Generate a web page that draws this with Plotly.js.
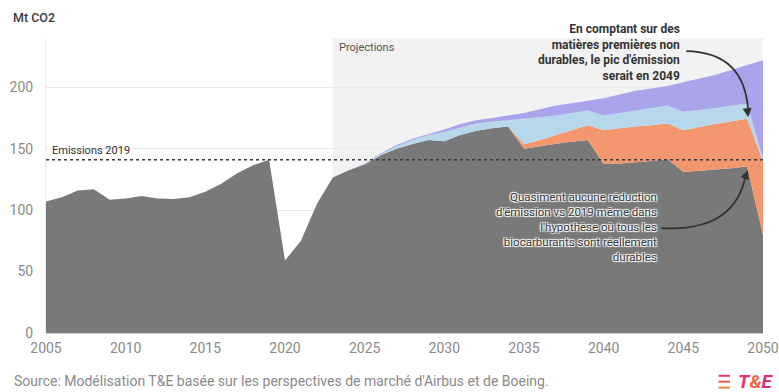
<!DOCTYPE html>
<html><head><meta charset="utf-8">
<script src="https://cdn.plot.ly/plotly-3.0.1.min.js"></script>
<style>html,body{margin:0;padding:0;background:#fff}#chart{width:779px;height:392px}</style>
</head><body><div id="chart"></div>
<script>
// ---- data (Mt CO2) ----
const years = [2005,2006,2007,2008,2009,2010,2011,2012,2013,2014,2015,2016,2017,2018,2019,2020,2021,2022,
  2023,2024,2025,2026,2027,2028,2029,2030,2031,2032,2033,2034,2035,2036,2037,2038,2039,2040,2041,2042,2043,2044,2045,2046,2047,2048,2049,2050];
const baseEmissions = [107,110.5,116,117,108.5,109.5,111.5,109.5,109,110.5,115,121.5,130,136.5,141,59,75,105,
  126.6,132.5,137,144.7,150,153.7,157,156,161,164.5,166.5,168,150,152,154,155.5,157,137.5,138,139,140,141.5,131,132,133,134,135.5,80];
const projYears = [2023,2024,2025,2026,2027,2028,2029,2030,2031,2032,2033,2034,2035,2036,2037,2038,2039,2040,2041,2042,2043,2044,2045,2046,2047,2048,2049,2050];
const nonDurable = [0,0,0,0,0,0,0,0,0,0,0,0,3.5,5,7,9.5,12,27.5,28.5,29,29,29,34,35.5,37,38,39,60];
const layerBlue = [0,0,0.5,0.8,2,3.3,4,7.5,6,6,5.5,5,21,18.5,16,14,12,12,12.5,13,14,14.5,15,14,13,13,12,2];
const layerPurple = [0,0,0.5,0.5,1,1,1,2,3,2.5,3,4,4.5,6.5,8,8,8,14,15,16,16,16,24,25.5,27,29,31.5,80];
const emissions2019 = 141;
const projStart = 2023, projEnd = 2050;
const xTicks = [2005,2010,2015,2020,2025,2030,2035,2040,2045,2050];
const yTicks = [0,50,100,150,200];

const FONT = 'Roboto, "Open Sans", sans-serif';
const traces = [
  {x: years, y: baseEmissions, name: 'Émissions', stackgroup: 'a', mode: 'none', fillcolor: '#797979', line:{width:0}},
  {x: projYears, y: nonDurable, name: 'Non durables', stackgroup: 'a', mode: 'none', fillcolor: '#f4976e', line:{width:0}},
  {x: projYears, y: layerBlue, name: 'B', stackgroup: 'a', mode: 'none', fillcolor: '#b6d8ea', line:{width:0}},
  {x: projYears, y: layerPurple, name: 'C', stackgroup: 'a', mode: 'none', fillcolor: '#a9a4ec', line:{width:0}}
];

const shapes = [
  {type:'rect', xref:'x', yref:'paper', x0: projStart, x1: projEnd, y0:0, y1:1, fillcolor:'#f2f2f2', line:{width:0}, layer:'below'},
  {type:'line', xref:'paper', yref:'y', x0:0, x1:1, y0: emissions2019, y1: emissions2019, line:{color:'#3a3a3a', width:1.5, dash:'dot'}},
  {type:'path', xref:'x', yref:'y', path:'M 2045.18,229.3 Q 2048.88,228.5 2049.07,180', line:{color:'#333', width:1.8}},
  {type:'path', xref:'x', yref:'y', path:'M 2043.61,85.4 Q 2048.25,82.1 2048.91,128.5', line:{color:'#333', width:1.8}},
  // logo bars
  {type:'line', xref:'paper', yref:'paper', x0:0.938, x1:0.954, y0:-0.145, y1:-0.145, line:{color:'#e8336b', width:2}},
  {type:'line', xref:'paper', yref:'paper', x0:0.938, x1:0.954, y0:-0.165, y1:-0.165, line:{color:'#ee5a4a', width:2}},
  {type:'line', xref:'paper', yref:'paper', x0:0.938, x1:0.954, y0:-0.185, y1:-0.185, line:{color:'#f0803a', width:2}}
];

const annotations = [
  {xref:'paper', yref:'paper', x:-0.049, y:1.071, xanchor:'left', yanchor:'middle', text:'Mt CO2', showarrow:false,
   font:{family:FONT, size:12.5, color:'#3a3a3a', weight:500}},
  {xref:'x', yref:'y', x: projStart, y:232.5, xanchor:'left', yanchor:'middle', xshift:4, text:'Projections', showarrow:false,
   font:{family:FONT, size:11, color:'#555'}},
  {xref:'x', yref:'y', x: 2005, y: emissions2019, xanchor:'left', yanchor:'bottom', xshift:4, yshift:1, text:'Emissions 2019', showarrow:false,
   font:{family:FONT, size:11, color:'#333'}},
  {xref:'x', yref:'y', x: 2044.93, y: 228.5, xanchor:'right', yanchor:'middle', align:'right', showarrow:false,
   text:'En comptant sur des<br>matières premières non<br>durables, le pic d\'émission<br>serait en 2049',
   font:{family:FONT, size:12, color:'#333', weight:700}},
  {xref:'x', yref:'y', x: 2043.48, y: 86.2, xanchor:'right', yanchor:'middle', align:'right', showarrow:false,
   text:'Quasiment aucune réduction<br>d\'émission vs 2019 même dans<br>l\'hypothèse où tous les<br>biocarburants sont réellement<br>durables',
   font:{family:FONT, size:11.5, color:'#3a3a3a', shadow:'1px 1px 1px #fff, -1px -1px 1px #fff, 1px -1px 1px #fff, -1px 1px 1px #fff'}},
  {xref:'x', yref:'y', x: 2049.07, y: 175.6, ax:-1, ay:-9, text:'', showarrow:true, arrowhead:2, arrowsize:1, arrowwidth:1.8, arrowcolor:'#333'},
  {xref:'x', yref:'y', x: 2049.04, y: 132.5, ax:-3, ay:9, text:'', showarrow:true, arrowhead:2, arrowsize:1, arrowwidth:1.8, arrowcolor:'#333'},
  {xref:'paper', yref:'paper', x:-0.047, y:-0.163, xanchor:'left', yanchor:'middle', showarrow:false,
   text:'Source: Modélisation T&E basée sur les perspectives de marché d\'Airbus et de Boeing.',
   font:{family:FONT, size:14, color:'#8a8a8a'}},
  {xref:'paper', yref:'paper', x:1.018, y:-0.165, xanchor:'right', yanchor:'middle', showarrow:false,
   text:'<i><b><span style="color:#e8336b">T</span><span style="color:#f06a45">&amp;</span><span style="color:#d9327a">E</span></b></i>',
   font:{family:FONT, size:19}}
];

const layout = {
  width: 779, height: 392,
  margin: {l:46, r:16, t:38, b:59, pad:0},
  paper_bgcolor:'#fff', plot_bgcolor:'#fff',
  showlegend: false,
  font: {family: FONT, color:'#8a8a8a', size:14},
  xaxis: {range:[2005,2050], tickvals: xTicks, ticktext: xTicks.map(String), showgrid:false, zeroline:false,
          showline:false, ticks:'', ticklabelstandoff:5, tickfont:{size:14, color:'#8a8a8a'}, fixedrange:true},
  yaxis: {range:[0,240], tickvals: yTicks, ticktext: yTicks.map(String), showgrid:true, gridcolor:'#e9e9e9',
          zeroline:true, zerolinecolor:'#cfcfcf', zerolinewidth:1.5, showline:true, linecolor:'#ececec',
          ticks:'', ticklabelstandoff:9, tickfont:{size:14, color:'#8a8a8a'}, fixedrange:true},
  shapes, annotations
};
Plotly.newPlot('chart', traces, layout, {displayModeBar:false, staticPlot:true});
</script></body></html>
